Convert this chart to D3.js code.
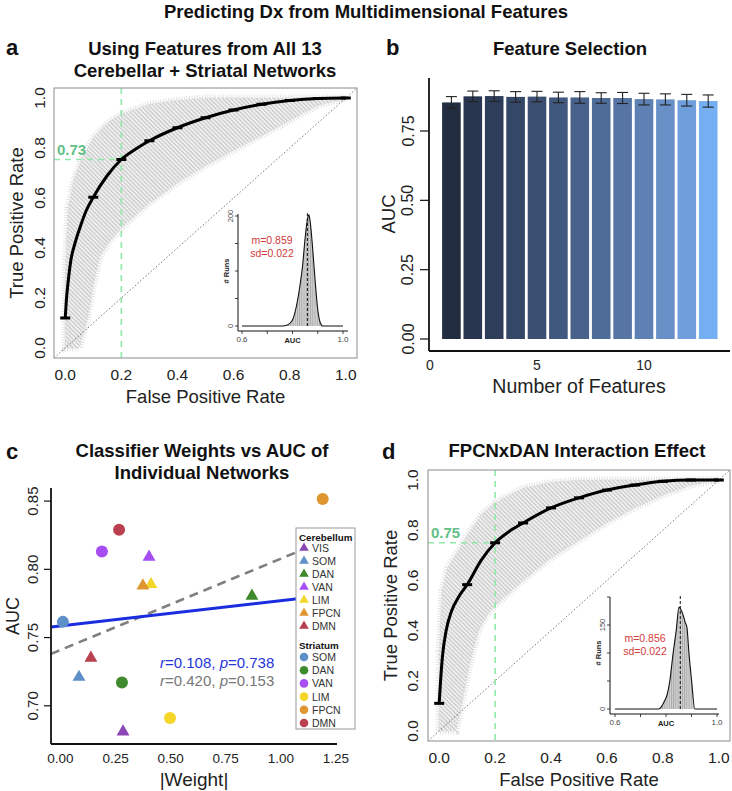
<!DOCTYPE html>
<html><head><meta charset="utf-8">
<script src="https://cdn.jsdelivr.net/npm/d3@7"></script>
<style>body{margin:0;background:#fff}svg{display:block}text{font-family:"Liberation Sans",Arial,Helvetica,sans-serif}</style>
</head><body>
<svg id="c" width="732" height="791"></svg>
<script>
// ---------------- DATA ----------------
const mainTitle = "Predicting Dx from Multidimensional Features";
const rocTicks = [0, 0.2, 0.4, 0.6, 0.8, 1.0];
const rocPtFPR = [0, 0.1, 0.2, 0.3, 0.4, 0.5, 0.6, 0.7, 0.8, 0.9, 1.0];

// Panel a
const rocA_ptTPR = [0.12, 0.603, 0.754, 0.829, 0.881, 0.921, 0.952, 0.975, 0.99, 0.998, 1.0];
const rocA_curveFPR = [0, 0.004, 0.01, 0.02, 0.035, 0.055, 0.075, 0.1, 0.15, 0.2, 0.25, 0.3, 0.4, 0.5, 0.6, 0.7, 0.8, 0.9, 1.0];
const rocA_curveTPR = [0.12, 0.19, 0.26, 0.35, 0.42, 0.49, 0.55, 0.603, 0.69, 0.754, 0.795, 0.829, 0.881, 0.921, 0.952, 0.975, 0.99, 0.998, 1.0];
const rocA_upFPR = [0, 0.01, 0.03, 0.06, 0.1, 0.15, 0.2, 0.3, 0.4, 0.5, 0.6, 0.8, 1.0];
const rocA_upTPR = [0.30, 0.56, 0.67, 0.76, 0.84, 0.90, 0.935, 0.975, 0.99, 1.0, 1.0, 1.0, 1.0];
const rocA_loFPR = [0, 0.05, 0.08, 0.1, 0.125, 0.16, 0.2, 0.3, 0.4, 0.5, 0.6, 0.7, 0.8, 0.9, 1.0];
const rocA_loTPR = [0, 0, 0.12, 0.25, 0.37, 0.43, 0.48, 0.58, 0.66, 0.73, 0.79, 0.85, 0.91, 0.97, 1.0];
const rocA_thr = 0.754, rocA_thrLabel = "0.73";
const histA_auc = [0.60, 0.76, 0.78, 0.80, 0.815, 0.83, 0.84, 0.85, 0.86, 0.865, 0.87, 0.88, 0.89, 0.90, 0.91, 0.92, 1.0];
const histA_cnt = [0, 0, 2, 11, 35, 75, 110, 160, 196, 202, 190, 140, 80, 30, 6, 0, 0];
const histA_mean = 0.859, histA_text = ["m=0.859", "sd=0.022"];

// Panel d
const rocD_ptTPR = [0.11, 0.583, 0.75, 0.829, 0.889, 0.929, 0.96, 0.98, 0.995, 1.0, 1.0];
const rocD_curveFPR = [0, 0.005, 0.012, 0.025, 0.045, 0.07, 0.1, 0.15, 0.2, 0.25, 0.3, 0.4, 0.5, 0.6, 0.7, 0.8, 0.9, 1.0];
const rocD_curveTPR = [0.11, 0.2, 0.3, 0.4, 0.48, 0.535, 0.583, 0.68, 0.75, 0.795, 0.829, 0.889, 0.929, 0.96, 0.98, 0.995, 1.0, 1.0];
const rocD_upFPR = [0, 0.01, 0.03, 0.07, 0.1, 0.15, 0.2, 0.3, 0.4, 0.5, 0.6, 0.8, 1.0];
const rocD_upTPR = [0.32, 0.56, 0.65, 0.72, 0.78, 0.86, 0.909, 0.968, 0.99, 1.0, 1.0, 1.0, 1.0];
const rocD_loFPR = [0, 0.06, 0.075, 0.11, 0.14, 0.17, 0.2, 0.3, 0.4, 0.5, 0.6, 0.7, 0.8, 0.9, 1.0];
const rocD_loTPR = [0, 0, 0.08, 0.27, 0.40, 0.46, 0.50, 0.60, 0.69, 0.76, 0.83, 0.89, 0.94, 0.98, 1.0];
const rocD_thr = 0.75, rocD_thrLabel = "0.75";
const histD_auc = [0.60, 0.77, 0.78, 0.795, 0.804, 0.815, 0.828, 0.84, 0.851, 0.858, 0.867, 0.875, 0.882, 0.89, 0.90, 0.913, 1.0];
const histD_cnt = [0, 0, 3, 15, 25, 50, 100, 140, 182, 178, 168, 155, 146, 100, 52, 0, 0];
const histD_mean = 0.856, histD_text = ["m=0.856", "sd=0.022"];

// Panel b
const nFeatures = [1,2,3,4,5,6,7,8,9,10,11,12,13];
const featAUC = [0.853, 0.875, 0.876, 0.873, 0.874, 0.871, 0.871, 0.869, 0.869, 0.865, 0.864, 0.861, 0.858];
const featErr = [0.021, 0.019, 0.019, 0.019, 0.019, 0.019, 0.021, 0.019, 0.020, 0.021, 0.020, 0.021, 0.022];
const featColors = ['#222d42','#28364f','#2e3e5a','#344766','#3a4f72','#41587e','#48628b','#4f6b97','#5775a4','#5f80b2','#6890c6','#6e9edc','#75aff2'];
const featYTicks = [0, 0.25, 0.5, 0.75];
const featXTicks = [0, 5, 10];

// Panel c
const networks = ['VIS','SOM','DAN','VAN','LIM','FPCN','DMN'];
const netColors = {VIS:'#8b46b3', SOM:'#5e8fc9', DAN:'#3e8a2c', VAN:'#a64ef2', LIM:'#f4d629', FPCN:'#df9631', DMN:'#b8404f'};
const cerebNets = ['VIS','SOM','DAN','VAN','LIM','FPCN','DMN'];
const cerebWeight = [0.284, 0.084, 0.869, 0.402, 0.411, 0.374, 0.138];
const cerebAUC = [0.681, 0.721, 0.7805, 0.809, 0.789, 0.788, 0.735];
const striNets = ['SOM','DAN','VAN','LIM','FPCN','DMN'];
const striWeight = [0.011, 0.279, 0.188, 0.497, 1.19, 0.266];
const striAUC = [0.7615, 0.717, 0.813, 0.691, 0.8515, 0.829];
const fitAll = {intercept: 0.7585, slope: 0.0185};   // blue, r=0.108
const fitSub = {intercept: 0.7409, slope: 0.0669};   // gray dashed, r=0.420
const cXTicks = [0, 0.25, 0.5, 0.75, 1.0, 1.25];
const cYTicks = [0.70, 0.75, 0.80, 0.85];

// ---------------- DRAW ----------------
const svg = d3.select('#c');
svg.append('rect').attr('width',732).attr('height',791).attr('fill','#fff');
const defs = svg.append('defs');
const hp = defs.append('pattern').attr('id','hatch').attr('patternUnits','userSpaceOnUse')
  .attr('width',3).attr('height',3).attr('patternTransform','rotate(-45)');
hp.append('rect').attr('width',3).attr('height',3).attr('fill','#f6f6f6');
hp.append('line').attr('x1',0.75).attr('y1',0).attr('x2',0.75).attr('y2',3).attr('stroke','#bcbcbc').attr('stroke-width',1.1);
const vp = defs.append('pattern').attr('id','vhatch').attr('patternUnits','userSpaceOnUse')
  .attr('width',2.2).attr('height',4);
vp.append('rect').attr('width',2.2).attr('height',4).attr('fill','#d2d2d2');
vp.append('line').attr('x1',0.5).attr('y1',0).attr('x2',0.5).attr('y2',4).attr('stroke','#8a8a8a').attr('stroke-width',0.6);

function txt(g, x, y, s, opts={}) {
  const t = g.append('text').attr('x',x).attr('y',y).text(s)
    .attr('font-size', opts.size||15).attr('fill', opts.fill||'#111')
    .attr('text-anchor', opts.anchor||'middle')
    .attr('dominant-baseline', opts.base||'auto');
  if (opts.bold) t.attr('font-weight','bold');
  if (opts.rot) t.attr('transform',`rotate(-90,${x},${y})`);
  return t;
}

// titles
txt(svg, 366, 18, mainTitle, {size:18.5, bold:true});
txt(svg, 6, 55, 'a', {size:22, bold:true, anchor:'start'});
txt(svg, 386, 55, 'b', {size:22, bold:true, anchor:'start'});
txt(svg, 6, 459, 'c', {size:22, bold:true, anchor:'start'});
txt(svg, 382, 459, 'd', {size:22, bold:true, anchor:'start'});

function rocPanel(o) {
  const g = svg.append('g');
  const x = d3.scaleLinear().domain([-0.04,1.04]).range([o.L,o.R]);
  const y = d3.scaleLinear().domain([-0.04,1.04]).range([o.B,o.T]);
  const cid = 'clip'+o.id;
  defs.append('clipPath').attr('id',cid).append('rect').attr('x',o.L).attr('y',o.T).attr('width',o.R-o.L).attr('height',o.B-o.T);
  const pg = g.append('g').attr('clip-path',`url(#${cid})`);
  // band
  const poly = o.upF.map((f,i)=>[x(f), y(o.upT[i])]).concat(o.loF.map((f,i)=>[x(f), y(o.loT[i])]).reverse());
  const bl = d3.line().curve(d3.curveLinearClosed);
  pg.append('path').attr('d', bl(poly)).attr('fill','none').attr('stroke','#e2e2e2').attr('stroke-width',7).attr('stroke-dasharray','1 1.6');
  pg.append('path').attr('d', bl(poly)).attr('fill','url(#hatch)').attr('stroke','#dadada').attr('stroke-width',1.5).attr('stroke-dasharray','1 1.5');
  // diagonal
  pg.append('line').attr('x1',x(-0.04)).attr('y1',y(-0.04)).attr('x2',x(1.04)).attr('y2',y(1.04))
    .attr('stroke','#555').attr('stroke-width',0.8).attr('stroke-dasharray','1.5 2');
  // green threshold
  pg.append('line').attr('x1',x(0.2)).attr('x2',x(0.2)).attr('y1',o.T).attr('y2',o.B)
    .attr('stroke','#8fe8aa').attr('stroke-width',1.6).attr('stroke-dasharray','6 5');
  pg.append('line').attr('x1',o.L).attr('x2',x(0.2)).attr('y1',y(o.thr)).attr('y2',y(o.thr))
    .attr('stroke','#8fe8aa').attr('stroke-width',1.6).attr('stroke-dasharray','6 5');
  txt(g, o.L+3, y(o.thr)-5, o.thrLabel, {size:15, bold:true, fill:'#63bf86', anchor:'start'});
  // curve
  const cl = d3.line().curve(d3.curveMonotoneX).x((d,i)=>x(o.cF[i])).y((d,i)=>y(o.cT[i]));
  pg.append('path').attr('d', cl(o.cF)).attr('fill','none').attr('stroke','#000').attr('stroke-width',3);
  // error bars
  rocPtFPR.forEach((f,i)=>{
    const cx = x(f), cy = y(o.pT[i]);
    pg.append('line').attr('x1',cx-5).attr('x2',cx+5).attr('y1',cy).attr('y2',cy).attr('stroke','#000').attr('stroke-width',3);
  });
  // box
  g.append('rect').attr('x',o.L).attr('y',o.T).attr('width',o.R-o.L).attr('height',o.B-o.T)
    .attr('fill','none').attr('stroke','#8c8c8c').attr('stroke-width',1);
  // ticks labels
  rocTicks.forEach(v=>{
    txt(g, x(v), o.B+22, d3.format('.1f')(v), {size:15.5, fill:'#222'});
    txt(g, o.L-15, y(v), d3.format('.1f')(v), {size:15.5, fill:'#222', rot:true, base:'central'});
  });
  txt(g, (o.L+o.R)/2, o.B+45, 'False Positive Rate', {size:18.5, fill:'#222'});
  txt(g, o.L-38, (o.T+o.B)/2, 'True Positive Rate', {size:18.5, fill:'#222', rot:true, base:'central'});
  // inset
  const h = o.inset;
  const ix = d3.scaleLinear().domain([0.6,1.0]).range([h.x06,h.x10]);
  const iy = d3.scaleLinear().domain([0,200]).range([h.y0,h.y200]);
  const ig = g.append('g');
  const area = d3.area().curve(d3.curveMonotoneX).x((d,i)=>ix(h.auc[i])).y0(iy(0)).y1((d,i)=>iy(h.cnt[i]));
  ig.append('path').attr('d', area(h.auc)).attr('fill','url(#vhatch)');
  const ln = d3.line().curve(d3.curveMonotoneX).x((d,i)=>ix(h.auc[i])).y((d,i)=>iy(h.cnt[i]));
  ig.append('path').attr('d', ln(h.auc)).attr('fill','none').attr('stroke','#111').attr('stroke-width',1.1);
  ig.append('line').attr('x1',ix(h.mean)).attr('x2',ix(h.mean)).attr('y1',iy(0)).attr('y2',iy(205))
    .attr('stroke','#111').attr('stroke-width',1).attr('stroke-dasharray','3 2');
  ig.append('line').attr('x1',h.ax).attr('x2',h.ax).attr('y1',h.yTop).attr('y2',h.axY).attr('stroke','#111').attr('stroke-width',1);
  ig.append('line').attr('x1',h.ax).attr('x2',h.axR).attr('y1',h.axY).attr('y2',h.axY).attr('stroke','#111').attr('stroke-width',1);
  [0.6,0.7,0.8,0.9,1.0].forEach(v=>{
    ig.append('line').attr('x1',ix(v)).attr('x2',ix(v)).attr('y1',h.axY).attr('y2',h.axY+3).attr('stroke','#111').attr('stroke-width',0.8);
  });
  [0,50,100,150,200].forEach(v=>{
    ig.append('line').attr('x1',h.ax).attr('x2',h.ax-3).attr('y1',iy(v)).attr('y2',iy(v)).attr('stroke','#111').attr('stroke-width',0.8);
  });
  txt(ig, ix(0.6), h.axY+11, '0.6', {size:8, fill:'#444'});
  txt(ig, ix(1.0), h.axY+11, '1.0', {size:8, fill:'#444'});
  txt(ig, ix(0.8), h.axY+12, 'AUC', {size:7.5, bold:true, fill:'#222'});
  h.yLabels.forEach(v=>{ txt(ig, h.ax-8, iy(v), String(v), {size:7.5, fill:'#444', rot:true, base:'central'}); });
  txt(ig, h.ax-12, iy(100), '# Runs', {size:7.5, bold:true, fill:'#222', rot:true, base:'central'});
  txt(ig, h.tx, h.ty, h.text[0], {size:10.5, fill:'#d13b3b'});
  txt(ig, h.tx, h.ty+13, h.text[1], {size:10.5, fill:'#d13b3b'});
}

rocPanel({id:'a', L:54, R:357, T:88, B:358, upF:rocA_upFPR, upT:rocA_upTPR, loF:rocA_loFPR, loT:rocA_loTPR,
  cF:rocA_curveFPR, cT:rocA_curveTPR, pT:rocA_ptTPR, thr:rocA_thr, thrLabel:rocA_thrLabel,
  inset:{ax:238, axY:331, axR:348, yTop:214, x06:242, x10:343, y0:326, y200:216, auc:histA_auc, cnt:histA_cnt,
    mean:histA_mean, yLabels:[0,200], text:histA_text, tx:272, ty:244}});
rocPanel({id:'d', L:428, R:730, T:470, B:741, upF:rocD_upFPR, upT:rocD_upTPR, loF:rocD_loFPR, loT:rocD_loTPR,
  cF:rocD_curveFPR, cT:rocD_curveTPR, pT:rocD_ptTPR, thr:rocD_thr, thrLabel:rocD_thrLabel,
  inset:{ax:610, axY:714, axR:719, yTop:597, x06:615, x10:717, y0:709, y200:597, auc:histD_auc, cnt:histD_cnt,
    mean:histD_mean, yLabels:[0,150], text:histD_text, tx:645, ty:642}});

txt(svg, 205, 55, 'Using Features from All 13', {size:18.5, bold:true});
txt(svg, 205, 77, 'Cerebellar + Striatal Networks', {size:18.5, bold:true});
txt(svg, 577, 457, 'FPCNxDAN Interaction Effect', {size:18.5, bold:true});

// ---------- Panel b ----------
(function(){
  const g = svg.append('g');
  const x = d3.scaleLinear().domain([0,13]).range([430, 708.2]);
  const y = d3.scaleLinear().domain([0,0.75]).range([339,131]);
  const bw = 18.6;
  txt(g, 570, 55, 'Feature Selection', {size:18.5, bold:true});
  nFeatures.forEach((n,i)=>{
    g.append('rect').attr('x',x(n)-bw/2).attr('width',bw).attr('y',y(featAUC[i])).attr('height',y(0)-y(featAUC[i]))
      .attr('fill',featColors[i]);
  });
  nFeatures.forEach((n,i)=>{
    const cx=x(n), t=y(featAUC[i]+featErr[i]), b=y(featAUC[i]-featErr[i]);
    g.append('line').attr('x1',cx).attr('x2',cx).attr('y1',t).attr('y2',b).attr('stroke','#222').attr('stroke-width',1.1);
    [t,b].forEach(yy=>g.append('line').attr('x1',cx-5.5).attr('x2',cx+5.5).attr('y1',yy).attr('y2',yy).attr('stroke','#222').attr('stroke-width',1.1));
  });
  g.append('line').attr('x1',429).attr('x2',429).attr('y1',78).attr('y2',351).attr('stroke','#111').attr('stroke-width',1.8);
  g.append('line').attr('x1',429).attr('x2',730).attr('y1',351).attr('y2',351).attr('stroke','#111').attr('stroke-width',1.8);
  featYTicks.forEach(v=>{
    g.append('line').attr('x1',420).attr('x2',429).attr('y1',y(v)).attr('y2',y(v)).attr('stroke','#111').attr('stroke-width',1.2);
    txt(g, 408, y(v), d3.format('.2f')(v), {size:16, fill:'#222', rot:true, base:'central'});
  });
  featXTicks.forEach(v=> txt(g, x(v), 370, String(v), {size:14, fill:'#222'}));
  txt(g, 579, 393, 'Number of Features', {size:19.5, fill:'#222'});
  txt(g, 388, 214, 'AUC', {size:18.5, fill:'#222', rot:true, base:'central'});
})();

// ---------- Panel c ----------
(function(){
  const g = svg.append('g');
  const x = d3.scaleLinear().domain([-0.043,1.255]).range([51,337]);
  const y = d3.scaleLinear().domain([0.672,0.8596]).range([744,488]);
  txt(g, 202, 457, 'Classifier Weights vs AUC of', {size:18.5, bold:true});
  txt(g, 202, 479, 'Individual Networks', {size:18.5, bold:true});
  defs.append('clipPath').attr('id','clipc').append('rect').attr('x',51).attr('y',488).attr('width',286).attr('height',256);
  const pg = g.append('g').attr('clip-path','url(#clipc)');
  pg.append('line').attr('x1',x(-0.043)).attr('x2',x(1.255))
    .attr('y1',y(fitSub.intercept+fitSub.slope*-0.043)).attr('y2',y(fitSub.intercept+fitSub.slope*1.255))
    .attr('stroke','#808080').attr('stroke-width',2.6).attr('stroke-dasharray','9 6');
  pg.append('line').attr('x1',x(-0.043)).attr('x2',x(1.255))
    .attr('y1',y(fitAll.intercept+fitAll.slope*-0.043)).attr('y2',y(fitAll.intercept+fitAll.slope*1.255))
    .attr('stroke','#1a2de0').attr('stroke-width',3);
  const tri = d3.symbol().type(d3.symbolTriangle).size(72);
  cerebNets.forEach((n,i)=>{
    pg.append('path').attr('d',tri()).attr('transform',`translate(${x(cerebWeight[i])},${y(cerebAUC[i])})`).attr('fill',netColors[n]);
  });
  striNets.forEach((n,i)=>{
    pg.append('circle').attr('cx',x(striWeight[i])).attr('cy',y(striAUC[i])).attr('r',6).attr('fill',netColors[n]);
  });
  g.append('line').attr('x1',51).attr('x2',51).attr('y1',488).attr('y2',744).attr('stroke','#111').attr('stroke-width',1.8);
  g.append('line').attr('x1',51).attr('x2',337).attr('y1',744).attr('y2',744).attr('stroke','#111').attr('stroke-width',1.8);
  cYTicks.forEach(v=>{
    g.append('line').attr('x1',44).attr('x2',51).attr('y1',y(v)).attr('y2',y(v)).attr('stroke','#111').attr('stroke-width',1.2);
    txt(g, 33, y(v), d3.format('.2f')(v), {size:15, fill:'#222', rot:true, base:'central'});
  });
  cXTicks.forEach(v=> txt(g, x(v), 763, d3.format('.2f')(v), {size:13.5, fill:'#222'}));
  txt(g, 194, 786, '|Weight|', {size:19, fill:'#222'});
  txt(g, 13, 616, 'AUC', {size:18, fill:'#222', rot:true, base:'central'});
  // stats
  const s1 = g.append('text').attr('x',160).attr('y',668).attr('font-size',15).attr('fill','#2436d8');
  s1.append('tspan').attr('font-style','italic').text('r');
  s1.append('tspan').text('=0.108, ');
  s1.append('tspan').attr('font-style','italic').text('p');
  s1.append('tspan').text('=0.738');
  const s2 = g.append('text').attr('x',160).attr('y',686).attr('font-size',15).attr('fill','#777');
  s2.append('tspan').attr('font-style','italic').text('r');
  s2.append('tspan').text('=0.420, ');
  s2.append('tspan').attr('font-style','italic').text('p');
  s2.append('tspan').text('=0.153');
  // legend
  const lg = g.append('g');
  lg.append('rect').attr('x',296).attr('y',528).attr('width',59).attr('height',201).attr('fill','#fff').attr('stroke','#999').attr('stroke-width',1);
  txt(lg, 299, 537, 'Cerebellum', {size:9.8, bold:true, anchor:'start', base:'central'});
  const ltri = d3.symbol().type(d3.symbolTriangle).size(40);
  cerebNets.forEach((n,i)=>{
    const yy = 548 + i*13;
    lg.append('path').attr('d',ltri()).attr('transform',`translate(304,${yy})`).attr('fill',netColors[n]);
    txt(lg, 312, yy, n, {size:10.5, fill:'#333', anchor:'start', base:'central'});
  });
  txt(lg, 299, 645, 'Striatum', {size:9.8, bold:true, anchor:'start', base:'central'});
  striNets.forEach((n,i)=>{
    const yy = 657 + i*13.2;
    lg.append('circle').attr('cx',304).attr('cy',yy).attr('r',4.3).attr('fill',netColors[n]);
    txt(lg, 312, yy, n, {size:10.5, fill:'#333', anchor:'start', base:'central'});
  });
})();
</script>
</body></html>
